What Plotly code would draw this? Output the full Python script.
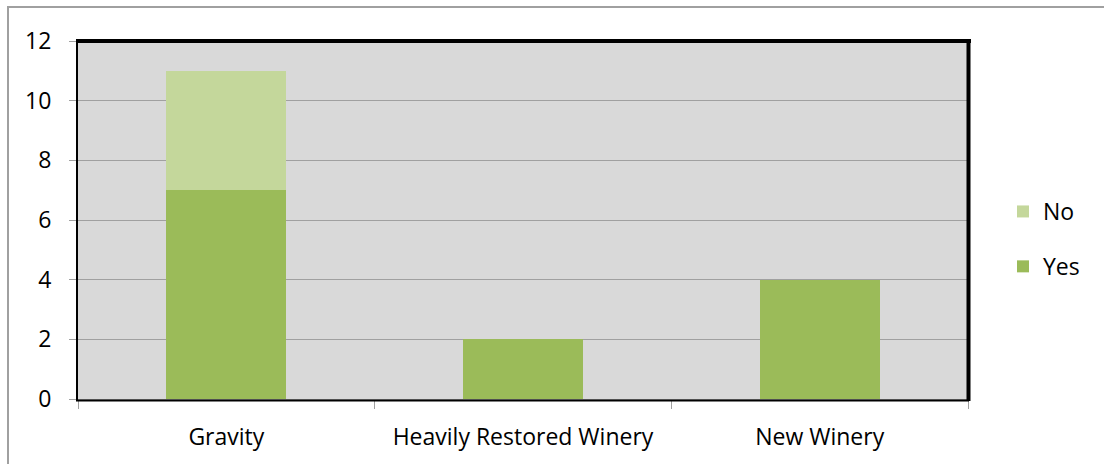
import plotly.graph_objects as go

categories = ["Gravity", "Heavily Restored Winery", "New Winery"]
yes_values = [7, 2, 4]
no_values = [4, 0, 0]
y_ticks = [0, 2, 4, 6, 8, 10, 12]

W, H = 1104, 464
L, R, T, B = 78, 136, 41, 65
pw, ph = W - L - R, H - T - B

def px_x(x):
    return (x - L) / pw

def px_y(y):
    # y measured in pixels from top of the page
    return (H - B - y) / ph

FONT = "Open Sans"
FS = 23
fig = go.Figure()
fig.add_trace(go.Bar(x=categories, y=yes_values, name="Yes", marker_color="#9BBB59",
                     marker_line_width=0, legendgroup="yes", legendrank=2))
fig.add_trace(go.Bar(x=categories, y=no_values, name="No", marker_color="#C4D79B",
                     marker_line_width=0, legendgroup="no", legendrank=1))

fig.update_layout(
    width=W, height=H,
    margin=dict(l=L, r=R, t=T, b=B, pad=0),
    barmode="stack", bargap=0.596,
    plot_bgcolor="#D9D9D9", paper_bgcolor="white",
    font=dict(family=FONT, size=FS, color="black"),
    legend=dict(x=px_x(1003), y=px_y(190), xanchor="left", yanchor="top",
                traceorder="grouped", tracegroupgap=22,
                font=dict(family=FONT, size=FS), bgcolor="rgba(0,0,0,0)"),
    xaxis=dict(showgrid=False, showline=True, linecolor="#A0A0A0", linewidth=1,
               ticks="outside", tickson="boundaries", ticklen=9, tickcolor="#A0A0A0",
               ticklabelstandoff=17, zeroline=False),
    yaxis=dict(range=[0, 12], tickvals=y_ticks, showgrid=True, gridcolor="#A0A0A0",
               gridwidth=1, showline=True, linecolor="#A0A0A0", linewidth=1,
               ticks="outside", ticklen=8, tickcolor="#A0A0A0",
               ticklabelstandoff=13, zeroline=False),
)

shapes = [
    # outer chart frame
    dict(type="rect", xref="paper", yref="paper", x0=px_x(8), x1=px_x(1112),
         y0=px_y(472), y1=px_y(7), line=dict(color="#A0A0A0", width=2)),
    # plot-area frame
    dict(type="rect", xref="paper", yref="paper", x0=px_x(77), x1=px_x(968),
         y0=px_y(400.5), y1=px_y(41), line=dict(color="black", width=2)),
    dict(type="line", xref="paper", yref="paper", x0=px_x(76), x1=px_x(971),
         y0=px_y(41), y1=px_y(41), line=dict(color="black", width=4)),
    dict(type="line", xref="paper", yref="paper", x0=px_x(968.5), x1=px_x(968.5),
         y0=px_y(401), y1=px_y(39), line=dict(color="black", width=4)),
]
fig.update_layout(shapes=shapes)

fig.write_html("out.html")
